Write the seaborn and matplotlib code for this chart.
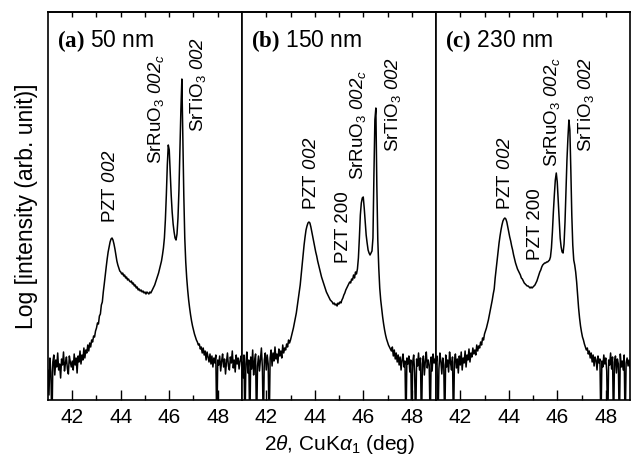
import numpy as np
import pandas as pd
import matplotlib
matplotlib.use("Agg")
import matplotlib.pyplot as plt
import seaborn as sns
from matplotlib.ticker import FixedLocator

# ---------------- data ----------------
# scan grid: 41.00 .. 49.00 deg, 0.04 deg step (201 points)
scan_start, scan_stop, n_points = 41.0, 49.0, 201
two_theta = np.linspace(scan_start, scan_stop, n_points)

# log10 intensity (arb. unit), one row per degree
log_int_a = [
    0.30, 0.05, 0.42, 0.28, -0.30, 0.38, 0.45, 0.25, 0.40, 0.33, 0.47, 0.30, 0.36, 0.22, 0.41, 0.35, 0.48, 0.29, 0.37, 0.43, 0.31, 0.26, 0.44, 0.38, 0.33,
    0.39, 0.30, 0.46, 0.35, 0.42, 0.27, 0.44, 0.38, 0.49, 0.36, 0.45, 0.40, 0.52, 0.42, 0.50, 0.47, 0.55, 0.49, 0.57, 0.53, 0.60, 0.58, 0.64, 0.63, 0.69,
    0.72, 0.77, 0.76, 0.84, 0.86, 0.95, 0.98, 1.08, 1.16, 1.25, 1.33, 1.41, 1.48, 1.53, 1.58, 1.61, 1.62, 1.60, 1.56, 1.51, 1.45, 1.39, 1.35, 1.32, 1.29,
    1.28, 1.26, 1.27, 1.24, 1.25, 1.22, 1.23, 1.20, 1.21, 1.19, 1.18, 1.19, 1.16, 1.17, 1.14, 1.15, 1.12, 1.13, 1.10, 1.11, 1.09, 1.10, 1.08, 1.09, 1.07,
    1.08, 1.06, 1.08, 1.07, 1.06, 1.08, 1.07, 1.09, 1.11, 1.13, 1.15, 1.18, 1.21, 1.24, 1.27, 1.31, 1.35, 1.39, 1.45, 1.52, 1.62, 1.80, 2.05, 2.35, 2.55,
    2.50, 2.28, 2.05, 1.88, 1.76, 1.68, 1.62, 1.60, 1.66, 1.82, 2.10, 2.50, 2.90, 3.21, 2.65, 2.05, 1.62, 1.38, 1.22, 1.10, 1.00, 0.92, 0.85, 0.79, 0.74,
    0.70, 0.66, 0.63, 0.60, 0.58, 0.55, 0.56, 0.51, 0.53, 0.47, 0.52, 0.45, 0.49, 0.40, 0.48, 0.43, 0.38, 0.46, 0.36, 0.44, 0.33, 0.42, 0.37, 0.45, -0.30,
    0.40, 0.35, 0.44, 0.29, 0.39, 0.46, 0.33, 0.41, 0.26, 0.38, 0.47, 0.34, 0.30, 0.43, 0.37, 0.49, 0.32, 0.40, 0.28, 0.45, 0.36, 0.42, 0.31, 0.39, 0.44,
    0.35,
]
log_int_b = [
    0.38, 0.22, 0.45, -0.30, 0.36, 0.48, 0.27, 0.40, -0.30, 0.43, 0.31, 0.50, 0.25, 0.39, 0.46, -0.30, 0.34, 0.44, 0.29, 0.41, 0.52, 0.33, -0.30, 0.40, 0.47,
    0.30, 0.45, 0.36, -0.30, 0.42, 0.50, 0.34, 0.47, 0.39, 0.53, 0.41, 0.46, 0.37, 0.51, 0.44, 0.49, 0.42, 0.55, 0.47, 0.52, 0.50, 0.56, 0.53, 0.60, 0.57,
    0.60, 0.64, 0.68, 0.72, 0.77, 0.82, 0.87, 0.94, 1.01, 1.08, 1.15, 1.25, 1.35, 1.45, 1.55, 1.63, 1.70, 1.74, 1.77, 1.78, 1.77, 1.73, 1.68, 1.63, 1.58,
    1.53, 1.48, 1.44, 1.39, 1.35, 1.31, 1.27, 1.23, 1.20, 1.17, 1.14, 1.11, 1.08, 1.06, 1.04, 1.02, 1.00, 0.99, 0.98, 0.96, 0.97, 0.95, 0.96, 0.94, 0.97,
    0.96, 0.98, 0.97, 1.00, 1.02, 1.05, 1.07, 1.10, 1.12, 1.14, 1.16, 1.18, 1.17, 1.21, 1.20, 1.25, 1.22, 1.28, 1.26, 1.31, 1.42, 1.62, 1.85, 1.97, 2.02,
    2.03, 1.92, 1.78, 1.65, 1.57, 1.50, 1.47, 1.45, 1.47, 1.49, 1.62, 2.25, 2.80, 2.92, 2.15, 1.60, 1.32, 1.12, 1.00, 0.91, 0.83, 0.76, 0.70, 0.65, 0.61,
    0.58, 0.55, 0.53, 0.51, 0.49, 0.53, 0.44, 0.50, 0.41, 0.47, 0.38, 0.45, 0.35, 0.43, 0.30, 0.40, 0.46, 0.33, 0.39, -0.30, 0.42, 0.36, 0.44, 0.28, 0.40,
    -0.30, 0.38, 0.45, 0.27, -0.30, 0.41, 0.34, 0.47, 0.30, 0.42, -0.30, 0.36, 0.44, 0.25, 0.39, 0.48, 0.32, 0.40, 0.35, -0.30, 0.43, 0.29, 0.46, 0.37, 0.41,
    0.33,
]
log_int_c = [
    0.36, 0.44, -0.30, 0.31, 0.47, 0.39, 0.26, 0.42, 0.35, -0.30, 0.45, 0.33, 0.40, 0.28, 0.48, 0.37, 0.30, 0.43, -0.30, 0.38, 0.46, 0.32, 0.41, 0.27, 0.44,
    0.35, 0.48, 0.30, 0.42, 0.37, 0.49, 0.33, 0.45, 0.40, 0.51, 0.38, 0.47, 0.43, 0.52, 0.46, 0.50, 0.45, 0.55, 0.49, 0.54, 0.52, 0.58, 0.55, 0.62, 0.60,
    0.66, 0.69, 0.72, 0.76, 0.80, 0.85, 0.90, 0.95, 1.00, 1.06, 1.11, 1.22, 1.31, 1.40, 1.49, 1.57, 1.64, 1.70, 1.75, 1.79, 1.81, 1.82, 1.81, 1.78, 1.73,
    1.68, 1.63, 1.59, 1.54, 1.50, 1.45, 1.41, 1.37, 1.34, 1.31, 1.29, 1.27, 1.25, 1.22, 1.21, 1.19, 1.17, 1.16, 1.15, 1.14, 1.14, 1.13, 1.12, 1.13, 1.12,
    1.13, 1.14, 1.15, 1.17, 1.19, 1.22, 1.25, 1.28, 1.30, 1.33, 1.35, 1.36, 1.37, 1.37, 1.38, 1.38, 1.39, 1.40, 1.43, 1.52, 1.68, 1.88, 2.05, 2.20, 2.27,
    2.18, 2.00, 1.80, 1.62, 1.53, 1.48, 1.47, 1.56, 1.78, 2.08, 2.40, 2.62, 2.80, 2.70, 2.30, 1.85, 1.55, 1.40, 1.35, 1.28, 1.18, 1.05, 0.92, 0.82, 0.74,
    0.68, 0.63, 0.60, 0.56, 0.53, 0.50, 0.52, 0.46, 0.49, 0.42, 0.47, 0.38, 0.45, 0.34, 0.43, 0.40, 0.30, 0.44, 0.37, 0.41, -0.30, 0.39, 0.33, 0.45, 0.36,
    0.42, 0.29, -0.30, 0.40, 0.35, 0.47, 0.31, 0.43, -0.30, 0.38, 0.44, 0.27, 0.41, 0.36, -0.30, 0.46, 0.33, 0.39, 0.30, 0.45, -0.30, 0.37, 0.42, 0.34, 0.40,
    0.32,
]

panel_tags = ["(a)", "(b)", "(c)"]
panel_thickness = ["50 nm", "150 nm", "230 nm"]

# peak labels: (text, 2theta position, log-intensity at label foot)
peak_labels_a = [
    (r"PZT $\mathsf{002}$", 43.56, 1.77),
    (r"SrRuO$_3$ $\mathsf{002}_c$", 45.47, 2.36),
    (r"SrTiO$_3$ $\mathsf{002}$", 47.19, 2.68),
]
peak_labels_b = [
    (r"PZT $\mathsf{002}$", 43.87, 1.90),
    (r"PZT 200", 45.18, 1.37),
    (r"SrRuO$_3$ $\mathsf{002}_c$", 45.80, 2.20),
    (r"SrTiO$_3$ $\mathsf{002}$", 47.24, 2.48),
]
peak_labels_c = [
    (r"PZT $\mathsf{002}$", 43.87, 1.90),
    (r"PZT 200", 45.11, 1.40),
    (r"SrRuO$_3$ $\mathsf{002}_c$", 45.80, 2.33),
    (r"SrTiO$_3$ $\mathsf{002}$", 47.17, 2.48),
]

x_major = [42, 44, 46, 48]
x_minor = [43, 45, 47]
x_all = [42, 43, 44, 45, 46, 47, 48]

# ---------------- style ----------------
sns.set_theme(style="ticks")
plt.rcParams.update({
    "font.family": ["Liberation Sans", "DejaVu Sans"],
    "mathtext.fontset": "custom",
    "mathtext.rm": "Liberation Sans",
    "mathtext.it": "Liberation Sans:italic",
    "mathtext.sf": "Liberation Sans:italic",
    "mathtext.bf": "Liberation Serif:bold",
    "axes.edgecolor": "black",
    "axes.linewidth": 1.2,
    "xtick.color": "black",
    "text.color": "black",
    "axes.labelcolor": "black",
})

df = pd.concat([
    pd.DataFrame({"two_theta": two_theta, "log_intensity": vals, "panel": tag})
    for tag, vals in zip(panel_tags, [log_int_a, log_int_b, log_int_c])
], ignore_index=True)

fig = plt.figure(figsize=(6.34, 4.59), dpi=100)
W, H = 634, 459
left0, pw, bot, ph = 48, 194, 59, 388

axes = []
for i, tag in enumerate(panel_tags):
    ax = fig.add_axes([(left0 + i * pw) / W, bot / H, pw / W, ph / H])
    axes.append(ax)
    sub = df[df["panel"] == tag]
    sns.lineplot(data=sub, x="two_theta", y="log_intensity", ax=ax,
                 color="black", linewidth=1.1, estimator=None, sort=False,
                 errorbar=None)
    ax.set_xlim(scan_start, scan_stop)
    ax.set_ylim(0, 3.88)
    ax.set_yticks([])
    ax.set_xticks(x_major)
    ax.xaxis.set_minor_locator(FixedLocator(x_minor))
    ax.tick_params(axis="x", which="major", direction="in", length=7, width=1.0,
                   labelsize=15, pad=6, bottom=True, top=False)
    ax.tick_params(axis="x", which="minor", direction="in", length=3.6, width=1.0,
                   bottom=True, top=False)
    ax.set_xlabel("")
    ax.set_ylabel("")
    for s in ax.spines.values():
        s.set_visible(True)
        s.set_linewidth(1.2)
        s.set_color("black")
    sec = ax.secondary_xaxis("top")
    sec.set_xticks(x_all)
    sec.tick_params(axis="x", direction="in", length=3.6, width=1.0, labeltop=False)
    sec.set_xticklabels([])

    ax.text(0.045, 0.925, r"$\mathbf{" + tag + r"}$ " + panel_thickness[i],
            transform=ax.transAxes, fontsize=16.5, va="center", ha="left")

    for text, xp, yp in [peak_labels_a, peak_labels_b, peak_labels_c][i]:
        ax.text(xp, yp, text, rotation=90, ha="center", va="bottom", fontsize=13.5)

axes[0].set_ylabel("Log [intensity (arb. unit)]", fontsize=16.5, labelpad=7)
axes[1].set_xlabel(r"2$\theta$, CuK$\alpha_1$ (deg)", fontsize=15, labelpad=4)

fig.savefig("out.png", dpi=100)
